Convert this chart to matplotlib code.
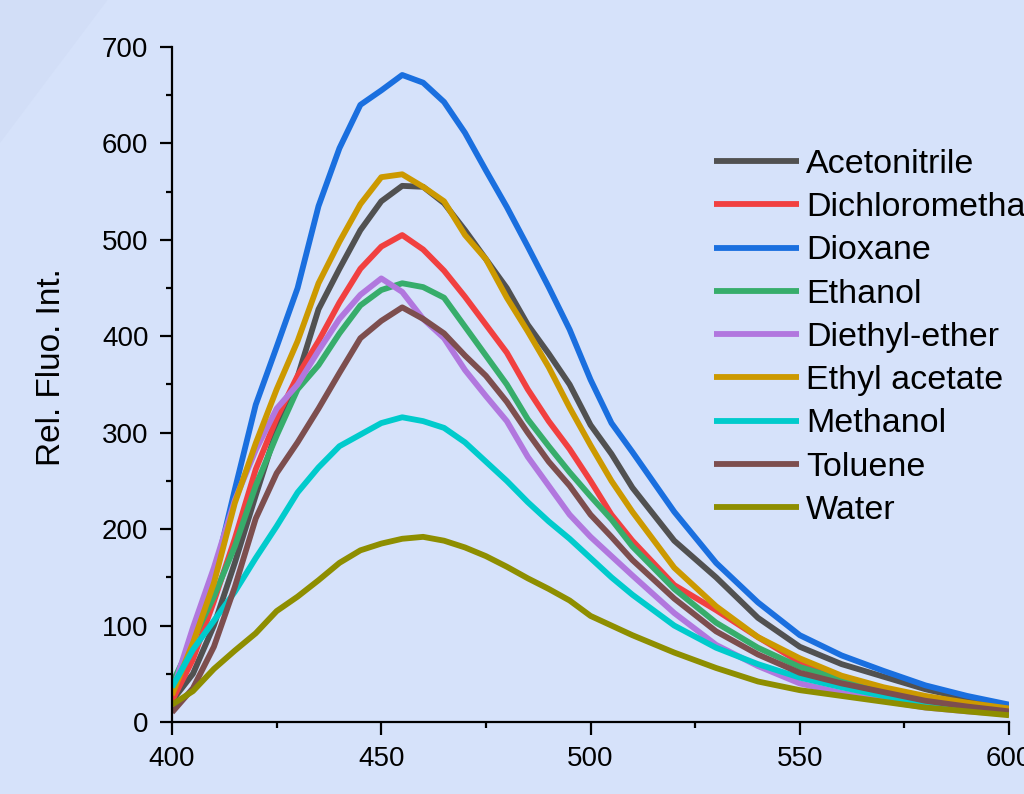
import numpy as np
import matplotlib
matplotlib.use('Agg')
from matplotlib import pyplot as plt
from matplotlib.ticker import MultipleLocator
from matplotlib.patches import Polygon

# emission wavelengths (nm)
wavelength = [400, 405, 410, 415, 420, 425, 430, 435, 440, 445, 450, 455, 460, 465,
              470, 475, 480, 485, 490, 495, 500, 505, 510, 520, 530, 540, 550, 560,
              570, 580, 590, 600]

acetonitrile = [22, 50, 100, 165, 235, 303, 358, 428, 470, 510, 540, 556, 555, 538,
                510, 480, 450, 412, 382, 350, 308, 278, 243, 188, 150, 108, 78, 60,
                47, 34, 24, 15]
dichloromethane = [22, 65, 125, 190, 262, 315, 359, 395, 435, 470, 493, 505, 490, 468,
                   441, 412, 383, 345, 312, 283, 250, 215, 188, 142, 116, 88, 62, 47,
                   35, 25, 17, 11]
dioxane = [36, 88, 150, 241, 329, 389, 450, 535, 595, 640, 655, 671, 663, 643,
           611, 572, 534, 493, 451, 407, 355, 310, 280, 218, 165, 124, 90, 69,
           53, 38, 27, 18]
ethanol = [40, 85, 130, 182, 245, 297, 345, 370, 403, 432, 448, 455, 451, 440,
           410, 380, 350, 314, 286, 259, 234, 210, 182, 138, 103, 77, 57, 44,
           33, 24, 16, 10]
diethyl_ether = [30, 98, 160, 230, 282, 325, 350, 385, 418, 443, 460, 446, 418, 398,
                 365, 338, 312, 275, 245, 215, 192, 172, 152, 113, 80, 58, 40, 30,
                 22, 15, 11, 8]
ethyl_acetate = [28, 82, 144, 227, 289, 345, 395, 455, 498, 537, 565, 568, 555, 540,
                 505, 480, 440, 405, 368, 326, 287, 250, 218, 160, 120, 88, 66, 48,
                 36, 27, 20, 14]
methanol = [36, 75, 105, 135, 170, 203, 238, 264, 286, 298, 310, 316, 312, 305,
            290, 270, 250, 228, 208, 190, 170, 150, 132, 100, 77, 60, 46, 36,
            27, 19, 13, 9]
toluene = [10, 35, 78, 140, 211, 258, 290, 325, 362, 398, 416, 430, 418, 403,
           380, 359, 332, 300, 270, 245, 215, 192, 168, 128, 94, 70, 51, 40,
           31, 22, 16, 11]
water = [18, 32, 55, 74, 92, 115, 130, 147, 165, 178, 185, 190, 192, 188,
         181, 172, 161, 149, 138, 126, 110, 100, 90, 72, 56, 42, 33, 27,
         21, 15, 11, 7]

solvents = ['Acetonitrile', 'Dichloromethane', 'Dioxane', 'Ethanol', 'Diethyl-ether',
            'Ethyl acetate', 'Methanol', 'Toluene', 'Water']
series = [acetonitrile, dichloromethane, dioxane, ethanol, diethyl_ether,
          ethyl_acetate, methanol, toluene, water]
colors = ['#515151', '#F14040', '#1A6FDF', '#37AD6B', '#B177DE',
          '#CC9900', '#00CBCC', '#7D4E4E', '#8E8E00']

plt.rcParams['font.family'] = ['Liberation Sans', 'DejaVu Sans']

bg = '#d6e2fa'
fig = plt.figure(figsize=(10.24, 7.94), dpi=100, facecolor=bg)
# faint diagonal band in the top-left corner
fig.patches.append(Polygon([[0, 1], [0.105, 1], [0, 0.82]], closed=True,
                           transform=fig.transFigure, facecolor='#d2def7',
                           edgecolor='none', zorder=0))

ax = fig.add_axes([0.168, 0.0907, 0.8174, 0.8501])
ax.set_facecolor('none')

for name, vals, c in zip(solvents, series, colors):
    ax.plot(wavelength, vals, color=c, lw=4.2, label=name,
            solid_joinstyle='round', solid_capstyle='butt')

ax.set_xlim(400, 600)
ax.set_ylim(0, 700)
ax.xaxis.set_major_locator(MultipleLocator(50))
ax.xaxis.set_minor_locator(MultipleLocator(25))
ax.yaxis.set_major_locator(MultipleLocator(100))
ax.yaxis.set_minor_locator(MultipleLocator(50))

ax.spines['top'].set_visible(False)
ax.spines['right'].set_visible(False)
for s in ['left', 'bottom']:
    ax.spines[s].set_linewidth(1.6)
    ax.spines[s].set_clip_on(False)

ax.tick_params(which='major', direction='out', length=9, width=1.6,
               labelsize=20, pad=8, colors='black')
ax.tick_params(which='minor', direction='out', length=4.5, width=1.6)

ax.set_ylabel('Rel. Fluo. Int.', fontsize=24)
ax.yaxis.set_label_coords(-0.125, 0.526)

leg = ax.legend(loc='upper left', bbox_to_anchor=(0.6476, 0.849), frameon=False,
                fontsize=24.5, handlelength=2.5, handletextpad=0.2,
                labelspacing=0.36, borderpad=0, borderaxespad=0)
for line in leg.get_lines():
    line.set_linewidth(4.2)

fig.savefig('out.png', dpi=100, facecolor=bg)
